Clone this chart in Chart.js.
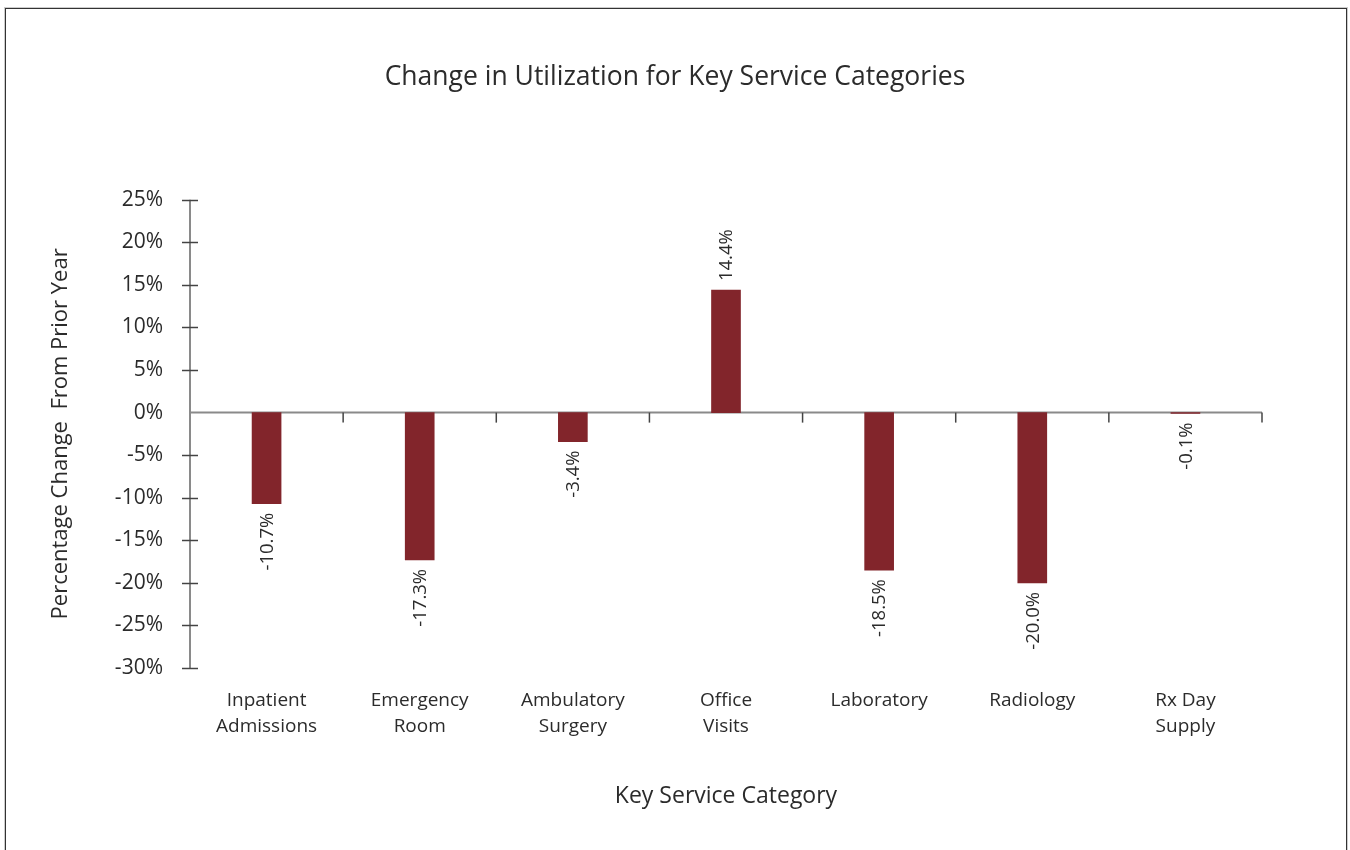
<!DOCTYPE html>
<html>
<head>
<meta charset="utf-8">
<script src="https://cdn.jsdelivr.net/npm/chart.js@4"></script>
<style>
  body { margin: 0; background: #fff; }
  #frame { position: absolute; left: 5px; top: 8px; width: 1340px; height: 900px; border: 1px solid #333; box-shadow: 0 0 0 1px #ccc; }
  #wrap { position: absolute; left: 0; top: 0; width: 1350px; height: 850px; }
</style>
</head>
<body>
<div id="frame"></div>
<div id="wrap"><canvas id="chart" width="1350" height="850"></canvas></div>
<script>
// Chart data
const categories = [
    ['Inpatient', 'Admissions'],
    ['Emergency', 'Room'],
    ['Ambulatory', 'Surgery'],
    ['Office', 'Visits'],
    ['Laboratory'],
    ['Radiology'],
    ['Rx Day', 'Supply']
];
const changeValues = [-10.7, -17.3, -3.4, 14.4, -18.5, -20.0, -0.1];
const yTicks = [25, 20, 15, 10, 5, 0, -5, -10, -15, -20, -25, -30];

const FONT = '"Open Sans", "DejaVu Sans", sans-serif';
const TEXT = '#2b2b2b';
const BAR = '#82252b';

// Bar value labels, rotated, outside the bar end
const valueLabels = {
    id: 'valueLabels',
    afterDatasetsDraw(chart) {
        const ctx = chart.ctx;
        const meta = chart.getDatasetMeta(0);
        ctx.save();
        ctx.font = '18.5px ' + FONT;
        ctx.fillStyle = TEXT;
        ctx.textBaseline = 'middle';
        meta.data.forEach((bar, i) => {
            const v = changeValues[i];
            const text = v.toFixed(1) + '%';
            ctx.save();
            ctx.translate(bar.x, bar.y);
            ctx.rotate(-Math.PI / 2);
            if (v < 0) {
                ctx.textAlign = 'right';
                ctx.fillText(text, -9, 1);
            } else {
                ctx.textAlign = 'left';
                ctx.fillText(text, 9, 1);
            }
            ctx.restore();
        });
        ctx.restore();
    }
};

// Zero line with category ticks, and y ticks crossing the axis
const axisMarks = {
    id: 'axisMarks',
    beforeDatasetsDraw(chart) {
        const ctx = chart.ctx;
        const x = chart.scales.x;
        const y = chart.scales.y;
        const area = chart.chartArea;
        const zero = y.getPixelForValue(0);
        ctx.save();
        // y axis line
        ctx.strokeStyle = '#8a8a8a';
        ctx.lineWidth = 2;
        ctx.beginPath();
        ctx.moveTo(area.left, y.getPixelForValue(yTicks[0]));
        ctx.lineTo(area.left, y.getPixelForValue(yTicks[yTicks.length - 1]));
        ctx.stroke();
        // zero line
        ctx.beginPath();
        ctx.moveTo(area.left, zero);
        ctx.lineTo(area.right, zero);
        ctx.stroke();
        // y ticks (none at zero)
        ctx.strokeStyle = '#444';
        ctx.lineWidth = 1.5;
        yTicks.forEach(t => {
            if (t === 0) return;
            const py = Math.round(y.getPixelForValue(t)) + 0.5;
            ctx.beginPath();
            ctx.moveTo(area.left - 8, py);
            ctx.lineTo(area.left + 8, py);
            ctx.stroke();
        });
        // category boundary ticks below the zero line
        for (let i = 0; i < categories.length; i++) {
            const px = i < categories.length - 1
                ? (x.getPixelForTick(i) + x.getPixelForTick(i + 1)) / 2
                : area.right;
            ctx.beginPath();
            ctx.moveTo(px, zero);
            ctx.lineTo(px, zero + 10);
            ctx.stroke();
        }
        ctx.restore();
    }
};

const ctx = document.getElementById('chart').getContext('2d');
new Chart(ctx, {
    type: 'bar',
    data: {
        labels: categories,
        datasets: [{
            data: changeValues,
            backgroundColor: BAR,
            barThickness: 29,
            borderWidth: 0
        }]
    },
    options: {
        responsive: false,
        animation: false,
        layout: { padding: { left: 0, right: 0, top: 0, bottom: 40 } },
        plugins: {
            legend: { display: false },
            tooltip: { enabled: false },
            title: {
                display: true,
                text: 'Change in Utilization for Key Service Categories',
                color: TEXT,
                font: { family: FONT, size: 26.5, weight: 'normal' },
                padding: { top: 62, bottom: 106 }
            }
        },
        scales: {
            x: {
                grid: { display: false, drawTicks: false },
                border: { display: false },
                ticks: {
                    color: TEXT,
                    font: { family: FONT, size: 19, lineHeight: 1.35 },
                    padding: 20,
                    maxRotation: 0
                },
                title: {
                    display: true,
                    text: 'Key Service Category',
                    color: TEXT,
                    font: { family: FONT, size: 23 },
                    padding: 0
                },
                afterFit(scale) { scale.height = 142; }
            },
            y: {
                min: -30,
                max: 25,
                grid: { display: false, drawTicks: false },
                border: { display: false },
                ticks: {
                    stepSize: 5,
                    color: TEXT,
                    font: { family: FONT, size: 21 },
                    padding: 27,
                    callback: v => v + '%'
                },
                title: {
                    display: true,
                    text: 'Percentage Change  From Prior Year',
                    color: TEXT,
                    font: { family: FONT, size: 22 },
                    padding: { top: 48, bottom: 0 }
                },
                afterFit(scale) { scale.width = 190; }
            },
            // empty right axis, only keeps the right margin
            yRight: {
                position: 'right',
                display: true,
                grid: { display: false, drawTicks: false },
                border: { display: false },
                ticks: { display: false },
                afterFit(scale) { scale.width = 88; }
            }
        }
    },
    plugins: [axisMarks, valueLabels]
});
</script>
</body>
</html>
